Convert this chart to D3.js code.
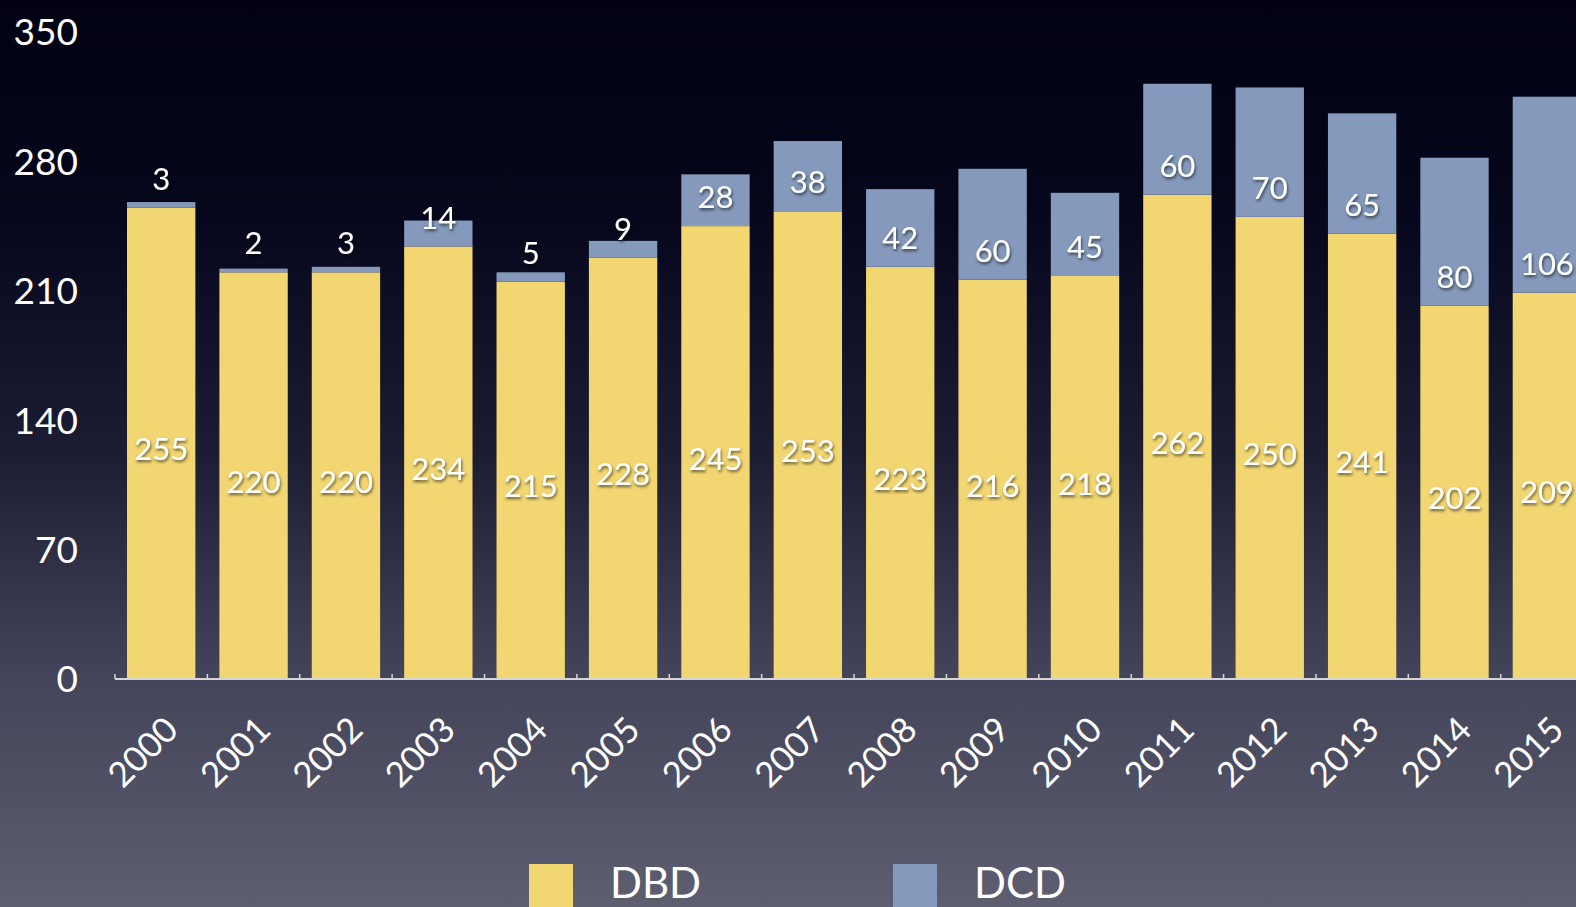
<!DOCTYPE html>
<html>
<head>
<meta charset="utf-8">
<script src="https://cdn.jsdelivr.net/npm/d3@7/dist/d3.min.js"></script>
<style>
  html, body { margin: 0; padding: 0; overflow: hidden; }
  body { width: 1576px; height: 907px; }
  svg { display: block; font-family: "Lato", "Open Sans", sans-serif; }
</style>
</head>
<body>
<svg id="chart" width="1576" height="907"></svg>
<script>
// data
var years = ["2000", "2001", "2002", "2003", "2004", "2005", "2006", "2007",
             "2008", "2009", "2010", "2011", "2012", "2013", "2014", "2015"];
var dbd = [255, 220, 220, 234, 215, 228, 245, 253, 223, 216, 218, 262, 250, 241, 202, 209];
var dcd = [3, 2, 3, 14, 5, 9, 28, 38, 42, 60, 45, 60, 70, 65, 80, 106];
var seriesNames = ["DBD", "DCD"];
var yTicks = [0, 70, 140, 210, 280, 350];

var colors = {DBD: "#f2d672", DCD: "#8499bb"};

var svg = d3.select("#chart"),
    width = +svg.attr("width"),
    height = +svg.attr("height");

var rows = years.map(function(y, i) { return {year: y, DBD: dbd[i], DCD: dcd[i]}; });

var defs = svg.append("defs");
var grad = defs.append("linearGradient")
    .attr("id", "bg").attr("x1", 0).attr("y1", 0).attr("x2", 0).attr("y2", 1);
[[0, "#010113"], [0.25, "#07071d"], [0.5, "#1c1c32"], [0.75, "#44445a"], [1, "#5e5e71"]]
  .forEach(function(s) { grad.append("stop").attr("offset", s[0]).attr("stop-color", s[1]); });

var shadow = defs.append("filter").attr("id", "shadow")
    .attr("x", "-20%").attr("y", "-20%").attr("width", "140%").attr("height", "140%");
shadow.append("feDropShadow").attr("dx", 1).attr("dy", 2).attr("stdDeviation", 1.5)
    .attr("flood-color", "#000").attr("flood-opacity", 0.6);

svg.append("rect").attr("width", width).attr("height", height).attr("fill", "url(#bg)");

var x = d3.scaleBand()
    .domain(years)
    .range([115, 115 + 16 * 92.38])
    .paddingInner(0.26)
    .paddingOuter(0.13);

var y = d3.scaleLinear().domain([0, 350]).range([679, 32]);

// grid lines
svg.append("g").selectAll("line")
  .data(yTicks.filter(function(d) { return d > 0; }))
  .enter().append("line")
    .attr("x1", 115).attr("x2", width)
    .attr("y1", function(d) { return y(d); })
    .attr("y2", function(d) { return y(d); })
    .attr("stroke", "#dcdcdc").attr("stroke-width", 2)
    .attr("filter", "url(#shadow)");

// y labels
svg.append("g").selectAll("text")
  .data(yTicks)
  .enter().append("text")
    .attr("x", 78)
    .attr("y", function(d) { return y(d); })
    .attr("dy", "0.36em")
    .attr("text-anchor", "end")
    .attr("fill", "#fff")
    .attr("font-size", 37)
    .text(function(d) { return d; });

// stacked bars
var stack = d3.stack().keys(seriesNames)(rows);

svg.append("g").selectAll("g")
  .data(stack)
  .enter().append("g")
    .attr("fill", function(d) { return colors[d.key]; })
  .selectAll("rect")
  .data(function(d) { return d; })
  .enter().append("rect")
    .attr("x", function(d) { return x(d.data.year); })
    .attr("y", function(d) { return y(d[1]); })
    .attr("width", x.bandwidth())
    .attr("height", function(d) { return y(d[0]) - y(d[1]); });

// axis line and ticks
var axis = svg.append("g");
axis.append("line")
    .attr("x1", 115).attr("x2", width)
    .attr("y1", y(0)).attr("y2", y(0))
    .attr("stroke", "#d6d6d6").attr("stroke-width", 2);
axis.selectAll(".tick")
  .data(years)
  .enter().append("line")
    .attr("class", "tick")
    .attr("x1", function(d) { return x(d) - x.step() * x.paddingInner() / 2; })
    .attr("x2", function(d) { return x(d) - x.step() * x.paddingInner() / 2; })
    .attr("y1", y(0)).attr("y2", y(0) - 5)
    .attr("stroke", "#d6d6d6").attr("stroke-width", 1.5);

// year labels
svg.append("g").selectAll("text")
  .data(years)
  .enter().append("text")
    .attr("transform", function(d) {
      return "translate(" + (x(d) + x.bandwidth() / 2 + 19) + ",732) rotate(-45)";
    })
    .attr("text-anchor", "end")
    .attr("fill", "#fff")
    .attr("font-size", 35)
    .text(function(d) { return d; });

// value labels
var labels = svg.append("g")
    .attr("fill", "#fff")
    .attr("font-size", 31)
    .attr("text-anchor", "middle")
    .attr("filter", "url(#shadow)");

labels.selectAll(".dbd")
  .data(rows)
  .enter().append("text")
    .attr("class", "dbd")
    .attr("x", function(d) { return x(d.year) + x.bandwidth() / 2; })
    .attr("y", function(d) { return (y(0) + y(d.DBD)) / 2 + 6; })
    .attr("dy", "0.36em")
    .text(function(d) { return d.DBD; });

labels.selectAll(".dcd")
  .data(rows)
  .enter().append("text")
    .attr("class", "dcd")
    .attr("x", function(d) { return x(d.year) + x.bandwidth() / 2; })
    .attr("y", function(d) { return y(d.DBD) - 29; })
    .attr("dy", "0.36em")
    .text(function(d) { return d.DCD; });

// legend
var legendX = [529, 893];
var legend = svg.append("g").selectAll("g")
  .data(seriesNames)
  .enter().append("g")
    .attr("transform", function(d, i) { return "translate(" + legendX[i] + ",864)"; });
legend.append("rect")
    .attr("width", 44).attr("height", 44)
    .attr("fill", function(d) { return colors[d]; });
legend.append("text")
    .attr("x", 81).attr("y", 34)
    .attr("fill", "#fff")
    .attr("font-size", 42)
    .text(function(d) { return d; });
</script>
</body>
</html>
